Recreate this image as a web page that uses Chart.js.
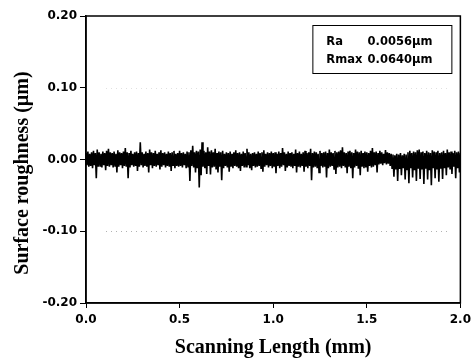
<!DOCTYPE html>
<html>
<head>
<meta charset="utf-8">
<script src="https://cdn.jsdelivr.net/npm/chart.js@4.4.1/dist/chart.umd.min.js"></script>
<style>
  html, body { margin: 0; padding: 0; background: #fff; }
</style>
</head>
<body>
<canvas id="profile" width="476" height="359"></canvas>
<script>
// sampling interval of the profile (mm); each sample has a peak and a valley
const stepMm = 0.01;

// peaks, nm, every 0.01 mm from 0.00 to 2.00
const topNm = [
  9, 11, 8, 10, 12, 9, 14, 10, 8, 11,
  9, 12, 15, 10, 9, 11, 8, 13, 10, 9,
  11, 16, 10, 9, 12, 8, 10, 11, 9, 24,
  10, 8, 11, 9, 14, 10, 9, 12, 8, 10,
  13, 9, 10, 8, 11, 9, 10, 12, 8, 9,
  12, 9, 10, 8, 11, 10, 13, 19, 10, 12,
  11, 14, 24, 12, 10, 17, 11, 13, 10, 15,
  9, 11, 10, 12, 8, 10, 9, 11, 8, 10,
  13, 9, 10, 8, 11, 9, 15, 10, 8, 9,
  10, 8, 11, 9, 10, 13, 8, 10, 9, 11,
  9, 10, 8, 11, 9, 16, 10, 8, 11, 9,
  10, 8, 14, 9, 11, 8, 10, 12, 9, 10,
  15, 9, 11, 10, 8, 12, 9, 10, 11, 9,
  14, 10, 9, 12, 10, 11, 13, 17, 10, 9,
  11, 12, 10, 9, 14, 11, 10, 12, 9, 11,
  10, 9, 12, 16, 10, 11, 9, 12, 10, 8,
  13, 10, 9, 8, 7, 6, 8, 7, 9, 6,
  8, 7, 10, 12, 9, 11, 10, 13, 14, 10,
  11, 9, 12, 10, 9, 13, 11, 10, 12, 9,
  10, 12, 9, 14, 10, 11, 9, 12, 10, 11, 9
];

// valleys, nm, same positions
const bottomNm = [
  -8, -10, -9, -12, -8, -26, -10, -9, -11, -8,
  -15, -9, -10, -8, -11, -9, -18, -10, -8, -12,
  -9, -10, -26, -11, -8, -10, -9, -16, -10, -8,
  -11, -9, -10, -18, -8, -12, -9, -10, -8, -14,
  -10, -8, -11, -9, -10, -16, -8, -12, -9, -10,
  -9, -11, -8, -12, -10, -30, -9, -11, -18, -12,
  -39, -22, -10, -12, -20, -9, -21, -11, -10, -14,
  -18, -10, -29, -12, -9, -11, -17, -10, -12, -9,
  -10, -12, -16, -9, -11, -10, -8, -12, -15, -9,
  -11, -10, -9, -12, -17, -10, -8, -11, -9, -12,
  -10, -19, -9, -12, -10, -8, -16, -11, -9, -10,
  -12, -9, -18, -10, -11, -9, -17, -10, -12, -9,
  -29, -11, -10, -12, -18, -9, -11, -10, -25, -12,
  -10, -9, -13, -20, -11, -10, -12, -9, -11, -19,
  -10, -12, -26, -11, -9, -13, -22, -10, -12, -11,
  -17, -9, -11, -10, -8, -18, -7, -6, -8, -5,
  -7, -6, -9, -12, -24, -14, -30, -13, -22, -12,
  -28, -14, -33, -12, -25, -15, -30, -13, -27, -14,
  -34, -13, -28, -15, -36, -12, -26, -14, -31, -13,
  -27, -12, -22, -11, -14, -20, -10, -26, -12, -18, -9
];

const xTicks = [0.0, 0.5, 1.0, 1.5, 2.0];
const yTicks = [-0.20, -0.10, 0.00, 0.10, 0.20];
const faintLevels = [0.10, -0.10];

const statNames = ['Ra', 'Rmax'];
const statValues = ['0.0056\u00b5m', '0.0640\u00b5m'];

const xTitle = 'Scanning Length (mm)';
const yTitle = 'Surface roughness (\u00b5m)';

// zig-zag peak -> valley -> peak so the dense profile reads as one trace
const profile = [];
topNm.forEach((t, i) => {
  profile.push({ x: i * stepMm, y: t / 1000 });
  profile.push({ x: i * stepMm + stepMm / 2, y: bottomNm[i] / 1000 });
});

const tickFont = { family: 'DejaVu Sans', weight: 'bold', size: 12 };

const decorPlugin = {
  id: 'decor',
  beforeDatasetsDraw(chart) {
    const ctx = chart.ctx;
    const area = chart.chartArea;
    const y = chart.scales.y;
    ctx.save();
    // faint dotted reference lines as in the scan
    faintLevels.forEach((v, k) => {
      const py = Math.round(y.getPixelForValue(v)) + 0.5;
      ctx.strokeStyle = k === 0 ? 'rgba(0,0,0,0.12)' : 'rgba(0,0,0,0.3)';
      ctx.lineWidth = 1;
      ctx.setLineDash([1, 4]);
      ctx.beginPath();
      ctx.moveTo(area.left + 20, py);
      ctx.lineTo(area.right - 10, py);
      ctx.stroke();
    });
    ctx.restore();
  },
  afterDraw(chart) {
    const ctx = chart.ctx;
    const area = chart.chartArea;
    ctx.save();
    // frame
    ctx.strokeStyle = '#000';
    ctx.lineWidth = 1.5;
    ctx.strokeRect(area.left, area.top, area.right - area.left, area.bottom - area.top);

    // stats box
    const bx = area.right - 148, by = area.top + 9, bw = 139, bh = 48;
    ctx.lineWidth = 1;
    ctx.strokeRect(bx + 0.5, by + 0.5, bw, bh);
    ctx.fillStyle = '#000';
    ctx.font = 'bold 11.5px "DejaVu Sans"';
    ctx.textBaseline = 'alphabetic';
    statNames.forEach((name, i) => {
      const base = by + 20 + i * 18;
      ctx.textAlign = 'left';
      ctx.fillText(name, bx + 14, base);
      ctx.textAlign = 'right';
      ctx.fillText(statValues[i], bx + 120, base);
    });

    // axis titles
    ctx.font = 'bold 20px "Liberation Serif"';
    ctx.textAlign = 'center';
    ctx.fillText(xTitle, (area.left + area.right) / 2, 353);
    ctx.translate(28, 173);
    ctx.rotate(-Math.PI / 2);
    ctx.fillText(yTitle, 0, 0);
    ctx.restore();
  }
};

new Chart(document.getElementById('profile'), {
  type: 'line',
  data: {
    datasets: [{
      data: profile,
      borderColor: '#000',
      borderWidth: 1.6,
      pointRadius: 0,
      tension: 0,
      fill: false
    }]
  },
  options: {
    responsive: false,
    animation: false,
    layout: { padding: { left: 0, right: 14, top: 16, bottom: 0 } },
    plugins: {
      legend: { display: false },
      tooltip: { enabled: false }
    },
    scales: {
      x: {
        type: 'linear',
        min: 0,
        max: 2,
        afterBuildTicks: s => { s.ticks = xTicks.map(v => ({ value: v })); },
        afterFit: s => { s.height = 56; },
        ticks: {
          color: '#000',
          font: tickFont,
          padding: 5,
          maxRotation: 0,
          callback: v => Number(v).toFixed(1)
        },
        grid: { drawOnChartArea: false, drawTicks: true, tickLength: 5, tickColor: '#000', tickWidth: 1 },
        border: { display: true, color: '#000', width: 1.5 }
      },
      y: {
        min: -0.2,
        max: 0.2,
        afterBuildTicks: s => { s.ticks = yTicks.map(v => ({ value: v })); },
        afterFit: s => { s.width = 86; },
        ticks: {
          color: '#000',
          font: tickFont,
          padding: 3,
          callback: v => (Math.abs(v) < 1e-9 ? 0 : v).toFixed(2)
        },
        grid: { drawOnChartArea: false, drawTicks: true, tickLength: 6, tickColor: '#000', tickWidth: 1 },
        border: { display: true, color: '#000', width: 1.5 }
      }
    }
  },
  plugins: [decorPlugin]
});
</script>
</body>
</html>
